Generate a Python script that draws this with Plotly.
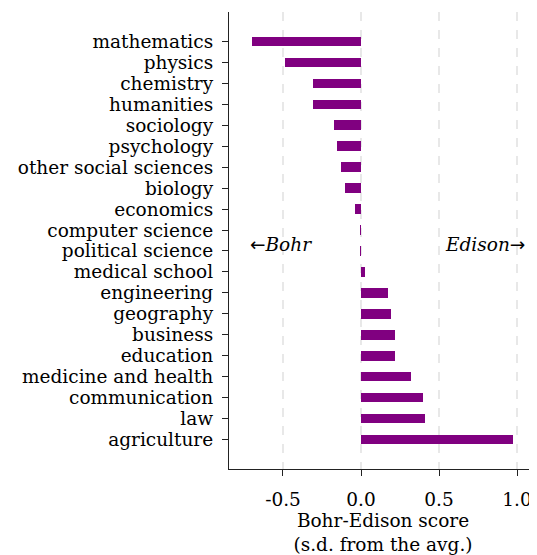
import plotly.graph_objects as go

fields = ["mathematics", "physics", "chemistry", "humanities", "sociology",
          "psychology", "other social sciences", "biology", "economics",
          "computer science", "political science", "medical school",
          "engineering", "geography", "business", "education",
          "medicine and health", "communication", "law", "agriculture"]
scores = [-0.70, -0.49, -0.31, -0.31, -0.17, -0.155, -0.13, -0.10, -0.04,
          -0.006, -0.005, 0.025, 0.17, 0.19, 0.215, 0.215, 0.32, 0.40, 0.41, 0.975]
x_ticks = [-0.5, 0.0, 0.5, 1.0]
x_ticklabels = ["-0.5", "0.0", "0.5", "1.0"]

FONT = "DejaVu Serif"
FS = 18.5
ARROW = '<span style="font-family:DejaVu Sans">{}</span>'

fig = go.Figure(go.Bar(
    x=scores, y=fields, orientation="h",
    marker=dict(color="#800080", line=dict(width=0)),
    width=0.45,
))

fig.add_annotation(x=-0.725, y=9.7, xref="x", yref="y",
                   text=ARROW.format("←") + "<i>Bohr</i>",
                   showarrow=False, xanchor="left", yanchor="middle",
                   font=dict(family=FONT, size=FS, color="black"))
fig.add_annotation(x=1.0, y=9.7, xref="paper", yref="y",
                   text="<i>Edison</i>" + ARROW.format("→"),
                   showarrow=False, xanchor="right", yanchor="middle", xshift=-10,
                   font=dict(family=FONT, size=FS, color="black"))

# page body has an 8px default margin, so the figure is drawn 8px right/down
fig.update_layout(
    width=529, height=547,
    margin=dict(l=221, r=0, t=4, b=86, autoexpand=False),
    plot_bgcolor="white", paper_bgcolor="white",
    font=dict(family=FONT, size=FS, color="black"),
    showlegend=False,
    bargap=0,
)
fig.update_xaxes(
    range=[-0.846, 1.128],
    tickvals=x_ticks, ticktext=x_ticklabels,
    showgrid=True, gridcolor="#e8e8e8", gridwidth=2, griddash="dash",
    zeroline=False, automargin=False,
    showline=True, linecolor="#222", linewidth=1.3,
    ticks="outside", ticklen=6, tickcolor="#222",
    ticklabelstandoff=8,
    title=dict(text="Bohr-Edison score<br>(s.d. from the avg.)", standoff=3,
               font=dict(family=FONT, size=FS)),
)
fig.update_yaxes(
    categoryorder="array", categoryarray=fields,
    tickmode="array", tickvals=fields, ticktext=fields,
    range=[20.4, -1.4],
    showgrid=False, zeroline=False, automargin=False,
    showline=True, linecolor="#222", linewidth=1.3,
    ticks="outside", ticklen=6, tickcolor="#222",
    ticklabelstandoff=5,
)

fig.write_html("out.html")
